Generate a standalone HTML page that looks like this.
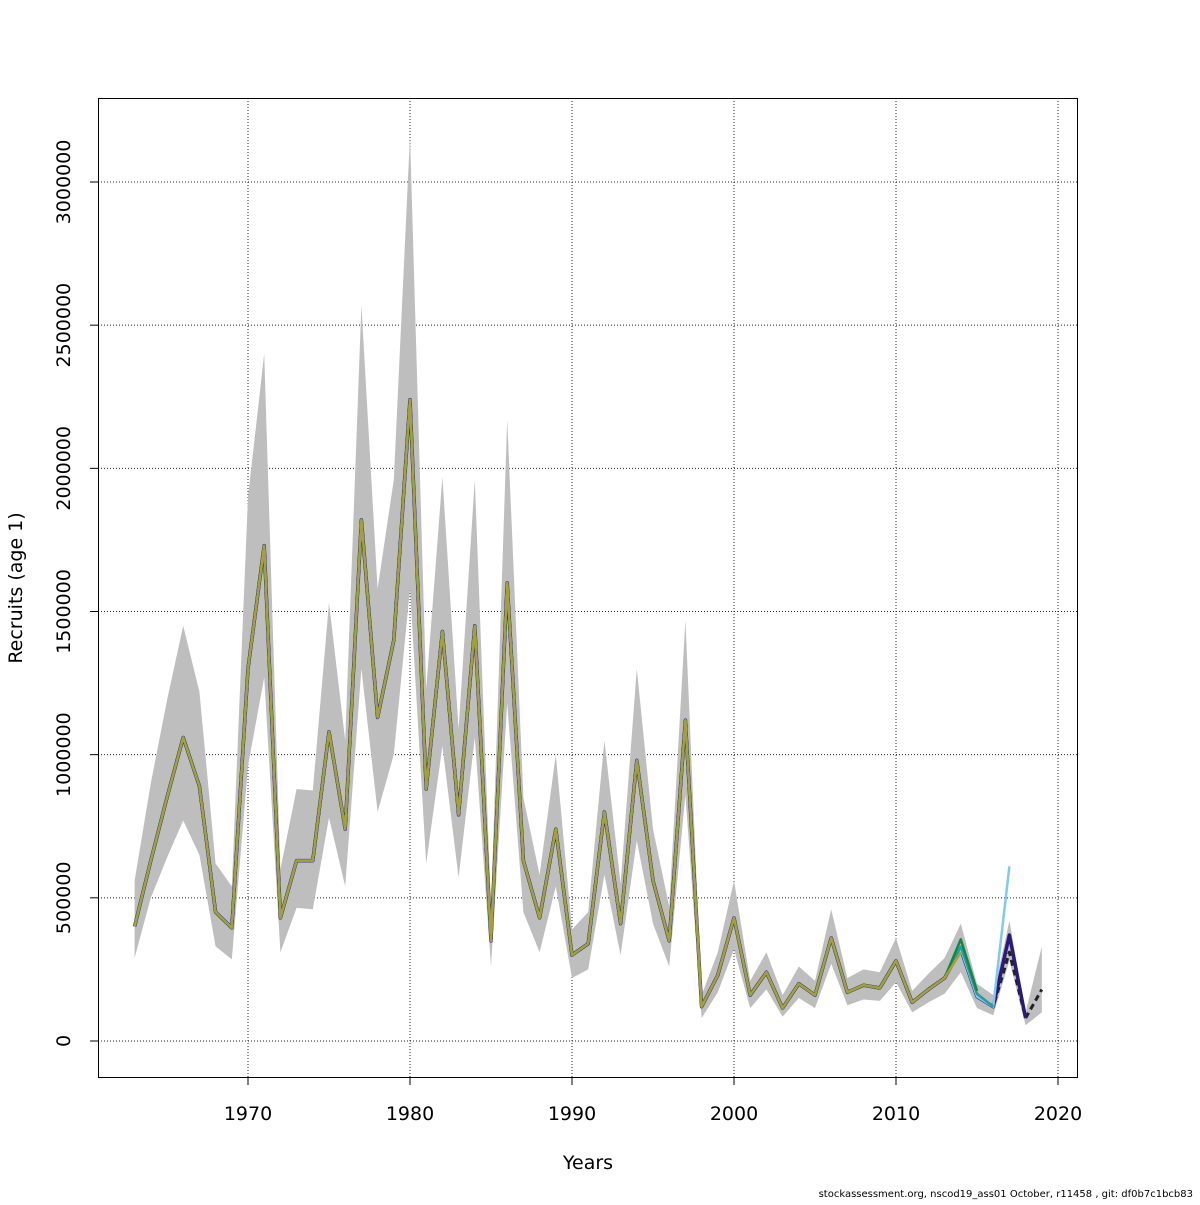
<!DOCTYPE html>
<html><head><meta charset="utf-8"><style>
body{margin:0;background:#fff;}
svg text{font-family:"DejaVu Sans","Liberation Sans",sans-serif;}
</style></head><body>
<svg id="chart" width="1200" height="1200" xmlns="http://www.w3.org/2000/svg"></svg>
<script>
const years=[];for(let y=1963;y<=2019;y++)years.push(y);
const recruits=[400000,630000,850000,1060000,890000,450000,395000,1300000,1730000,430000,630000,630000,1080000,740000,1820000,1130000,1400000,2240000,880000,1430000,790000,1450000,350000,1600000,630000,430000,740000,300000,340000,800000,410000,980000,560000,350000,1120000,120000,230000,430000,160000,240000,115000,200000,160000,360000,170000,195000,185000,280000,135000,180000,220000,320000,155000,120000,310000,80000,180000];
const upper=[560000,900000,1190000,1450000,1220000,620000,540000,1900000,2400000,600000,880000,875000,1530000,1050000,2570000,1580000,1960000,3160000,1230000,1970000,1090000,1960000,470000,2170000,850000,580000,1000000,390000,450000,1050000,550000,1300000,740000,470000,1470000,160000,310000,560000,210000,310000,160000,260000,210000,460000,220000,250000,240000,360000,175000,235000,290000,410000,200000,160000,420000,100000,330000];
const lower=[290000,500000,640000,770000,650000,330000,285000,960000,1270000,310000,465000,460000,780000,540000,1300000,800000,1000000,1580000,620000,1030000,570000,1060000,260000,1180000,450000,310000,540000,220000,250000,580000,300000,700000,410000,260000,860000,80000,170000,320000,115000,180000,85000,150000,115000,270000,125000,145000,140000,205000,100000,135000,165000,240000,115000,90000,280000,55000,100000];
const peelNavyTail=[370000,80000];
const peelLightBlueTail=[610000];
const peelTealTail=[330000,165000,120000];
const peelGreenTail=[355000,175000];
const peelOliveTail=[310000];
const xTicks=[1970,1980,1990,2000,2010,2020];
const yTicks=[0,500000,1000000,1500000,2000000,2500000,3000000];

const svg=document.getElementById('chart');const NS='http://www.w3.org/2000/svg';
const X=y=>248+(y-1970)*16.2;
const Y=v=>1041-v*(859/3000000);
function el(t,a,p){const e=document.createElementNS(NS,t);for(const k in a)e.setAttribute(k,a[k]);(p||svg).appendChild(e);return e;}
xTicks.forEach(t=>{const l=el('line',{x1:X(t),x2:X(t),y1:98,y2:1077,stroke:'#222','stroke-dasharray':'1,2','stroke-width':1});
});
yTicks.forEach(t=>{const l=el('line',{x1:98,x2:1077,y1:Y(t),y2:Y(t),stroke:'#222','stroke-dasharray':'1,2','stroke-width':1});
});
let d='';years.forEach((y,i)=>d+=(i?'L':'M')+X(y)+','+Y(upper[i]));
for(let i=years.length-1;i>=0;i--)d+='L'+X(years[i])+','+Y(lower[i]);
const band=el('path',{d:d+'Z',fill:'#bebebe',stroke:'none'});

function series(lastYear,tail,color,name,w,dash){
  const n=lastYear-1963+1;const vals=recruits.slice(0,n);
  for(let k=0;k<tail.length;k++)vals[n-tail.length+k]=tail[k];
  let p='';vals.forEach((v,i)=>p+=(i?'L':'M')+X(years[i])+','+Y(v));
  const a={d:p,fill:'none',stroke:color,'stroke-width':w,'stroke-linejoin':'round'};if(dash)a['stroke-dasharray']=dash;
  const e=el('path',a);
}
series(2019,[],'#222','series-final',3,'6,4');
series(2018,peelNavyTail,'#2a1a7a','series-peel-1',3.5);
series(2017,peelLightBlueTail,'#7ecbef','series-peel-2',2.5);
series(2016,peelTealTail,'#20a0a0','series-peel-3',2.5);
series(2015,peelGreenTail,'#118844','series-peel-4',2.5);
series(2014,peelOliveTail,'#a8a030','series-peel-5',2.5);
const f=el('rect',{x:98.5,y:98.5,width:979,height:979,fill:'none',stroke:'#000','stroke-width':1});

xTicks.forEach(t=>{el('line',{x1:X(t),x2:X(t),y1:1077,y2:1085,stroke:'#000'});
const tx=el('text',{x:X(t),y:1120,'text-anchor':'middle','font-size':19});tx.textContent=t;
});
yTicks.forEach(t=>{el('line',{x1:90,x2:98,y1:Y(t),y2:Y(t),stroke:'#000'});
const tx=el('text',{x:70,y:Y(t),'text-anchor':'middle','font-size':19,transform:`rotate(-90 70 ${Y(t)})`});tx.textContent=t;
});
const xt=el('text',{x:588,y:1169,'text-anchor':'middle','font-size':19});xt.textContent='Years';

const yt=el('text',{x:22,y:588,'text-anchor':'middle','font-size':19,transform:'rotate(-90 22 588)'});yt.textContent='Recruits (age 1)';

const ft=el('text',{x:1193,y:1197,'text-anchor':'end','font-size':10});ft.textContent='stockassessment.org, nscod19_ass01  October, r11458 , git: df0b7c1bcb83';

</script>
</body></html>
